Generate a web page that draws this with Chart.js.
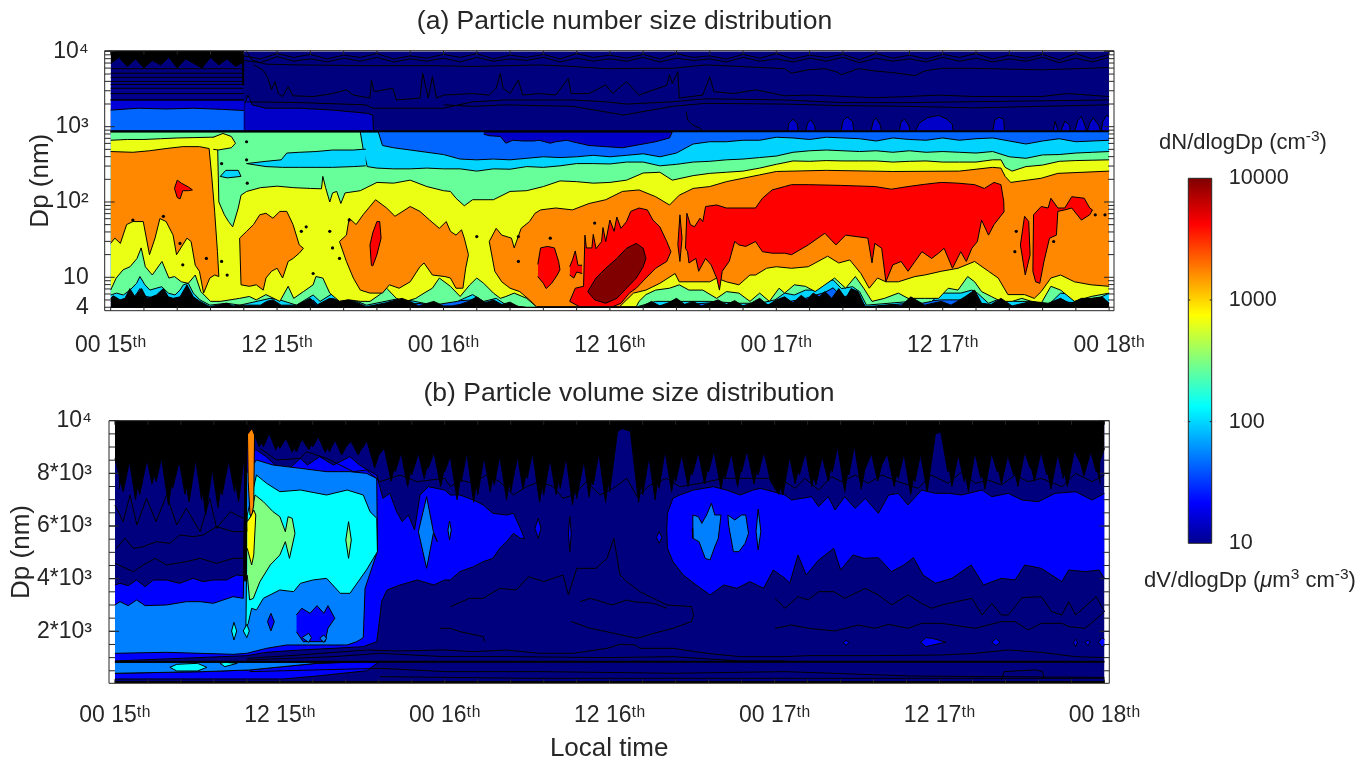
<!DOCTYPE html>
<html>
<head>
<meta charset="utf-8">
<script src="https://cdn.jsdelivr.net/npm/chart.js@4"></script>
<style>
  body { margin: 0; background: #fff; width: 1369px; height: 771px; overflow: hidden; font-family: "Liberation Sans", Arial, sans-serif; color: #262626; }
  canvas { position: absolute; }
  .cbt { position: absolute; font-size: 22px; white-space: nowrap; transform: translateX(-50%); }
  .cbt sup { font-size: 15.5px; line-height: 0; }
</style>
</head>
<body>
<canvas id="chartA" width="1249" height="372" style="left:0;top:0"></canvas>
<canvas id="chartB" width="1258" height="399" style="left:0;top:372px"></canvas>
<canvas id="chartC" width="239" height="420" style="left:1130px;top:150px"></canvas>
<div class="cbt" style="left:1243px;top:129px">dN/dlogDp (cm<sup>-3</sup>)</div>
<div class="cbt" style="left:1250px;top:567px">dV/dlogDp (<i>μ</i>m<sup>3</sup> cm<sup>-3</sup>)</div>
<script>
// ---------- labels ----------
const titleA = '(a) Particle number size distribution';
const titleB = '(b) Particle volume size distribution';
const hourTicks = [0, 12, 24, 36, 48, 60, 72];
const hourLabels = ['00 15ᵗʰ', '12 15ᵗʰ', '00 16ᵗʰ', '12 16ᵗʰ', '00 17ᵗʰ', '12 17ᵗʰ', '00 18ᵗʰ'];
const dpTicksA = [4, 10, 100, 1000, 10000];
const dpLabelsA = ['4', '10', '10²', '10³', '10⁴'];
const dpTicksB = [2000, 4000, 6000, 8000, 10000];
const dpLabelsB = ['2*10³', '4*10³', '6*10³', '8*10³', '10⁴'];
const cbarTicks = [10, 100, 1000, 10000];

// 1.2 h reading grid
const t12 = [0,1.2,2.4,3.6,4.8,6,7.2,8.4,9.6,10.8,12,13.2,14.4,15.6,16.8,18,19.2,20.4,21.6,22.8,24,25.2,26.4,27.6,28.8,30,31.2,32.4,33.6,34.8,36,37.2,38.4,39.6,40.8,42,43.2,44.4,45.6,46.8,48,49.2,50.4,51.6,52.8,54,55.2,56.4,57.6,58.8,60,61.2,62.4,63.6,64.8,66,67.2,68.4,69.6,70.8,72];

// ---------- panel (a): contour edges, hours and log10(Dp) ----------
const aCyanT = [0,19.3,19.6].concat(t12.slice(17));
const aCyanTop = [2.93,2.93,2.75,2.72,2.69,2.66,2.63,2.57,2.56,2.57,2.56,2.58,2.60,2.59,2.60,2.62,2.60,2.62,2.64,2.60,2.65,2.77,2.80,2.80,2.82,2.82,2.86,2.85,2.83,2.86,2.85,2.84,2.81,2.85,2.83,2.82,2.85,2.82,2.84,2.85,2.81,2.77,2.81,2.84,2.80,2.81,2.82];
const aCyanBotT = [0,.91,1.4,1.87,2.11,2.47,3.2,3.68,4.2,5,5.6,6,6.4,7.2,14,14.6,15,16,17.25,18.4,19.6,26.1,27.8,29,38,39.3,41.7,43.2,45,47.9,50.1,51.5,52.1,52.7,53.5,54,54.5,59.9,61.3,62.1,62.5,63.3,64.2,65.2,68.5,69.5,70.5,72];
const aCyanBot = [.68,.68,.70,.78,.85,.75,.72,.74,.70,.72,.80,.68,.62,.60,.60,.70,.62,.72,.64,.60,.62,.70,.65,.60,.60,.62,.64,.66,.62,.64,.72,.80,.86,.74,.76,.72,.60,.70,.70,.74,.68,.60,.64,.60,.68,.66,.60,.66];
const aGreenT = [0,18,18.2,18.5].concat(t12.slice(16));
const aGreenTop = [2.93,2.93,2.71,2.47,2.45,2.44,2.44,2.45,2.44,2.44,2.41,2.44,2.435,2.47,2.46,2.48,2.51,2.51,2.505,2.53,2.53,2.48,2.50,2.53,2.54,2.56,2.57,2.59,2.61,2.66,2.68,2.69,2.68,2.67,2.68,2.66,2.68,2.66,2.67,2.66,2.65,2.67,2.60,2.58,2.625,2.63,2.65,2.66,2.67];
const aGreenBotT = [0,.43,.91,1.39,1.87,2.11,2.47,2.83,3.2,3.68,4.16,4.64,5,5.24,5.6,5.96,6.44,7.16,8.36,9.32,11.5,12.2,13.4,14.6,15.1,16.05,17.25,18.45,20.86,23.26,25,26.1,26.9,27.8,28.5,30,38,39.3,41.7,43.2,45.3,46.8,47.9,48.6,49.3,50.1,50.8,51.5,52.1,52.7,53.5,54,54.5,57.7,58.5,59.2,59.9,60.6,61.3,62.1,62.5,63.3,64.2,65.2,66.4,67.6,68.5,69.5,70.5,72];
const aGreenBot = [.765,.79,.765,.83,.92,1.01,.90,.83,.85,.875,.79,.765,.83,.90,.92,.79,.70,.63,.655,.63,.72,.70,.63,.765,.68,.79,.72,.63,.72,.63,.68,.77,.68,.72,.635,.60,.61,.68,.68,.68,.655,.655,.70,.79,.765,.83,.83,.94,.965,.85,.875,.81,.63,.68,.655,.68,.79,.79,.79,.83,.79,.655,.72,.68,.68,.63,.79,.765,.655,.79];
const aYellowT = [0,1.2,2.4,3.6,4.8,6,7.2,7.7,7.8,8.2,8.5,8.8,9.2,9.4,9.8,10.8,12,13.2,14.4,15.2,15.3,15.5,15.8,16,16.3,16.6,16.9,18,19.2,20.4,21.6,22.8,24,24.5,24.9,25.5,26.1,27.6,28.8,30,31.2,32.4,33.6,34.8,36,37.2,38.4,39.6,40.5,42,43.2,44.4,45.6,46.8,48,49.2,50.4,51.6,52.8,54,55.2,56.4,57.6,58.8,60,61.2,62.4,63.6,64.2,64.5,65,66,67.2,68.4,69.6,70.8,72];
const aYellowTop = [2.82,2.83,2.83,2.84,2.85,2.855,2.86,2.86,2.0,1.83,1.74,1.67,1.92,2.09,2.14,2.19,2.21,2.19,2.18,2.175,2.34,2.19,2.0,2.12,2.14,1.98,2.12,2.15,2.26,2.25,2.29,2.205,2.15,2.14,2.05,1.95,2.03,2.03,2.14,2.15,2.205,2.28,2.27,2.25,2.26,2.29,2.385,2.395,2.29,2.35,2.38,2.395,2.41,2.45,2.50,2.545,2.54,2.55,2.545,2.545,2.545,2.53,2.54,2.545,2.53,2.53,2.53,2.56,2.56,2.46,2.41,2.47,2.49,2.54,2.55,2.555,2.56];
const aYellowBotT = [0,.4,.9,1.4,1.9,2.2,2.5,3,3.7,4.2,4.6,5.1,5.6,6.1,6.5,7.2,7.9,8.6,9.3,10,10.5,11.2,12.2,12.8,13.2,13.9,14.6,14.8,15.3,15.8,16.5,17.2,18,18.7,19.4,19.9,20.6,21.3,22,22.6,23.2,23.7,24.5,25.2,25.9,26.4,26.9,27.6,28.1,28.5,29.1,30,30.7,37.9,38.1,38.6,39.3,40.3,41,41.7,42.7,43.7,44.4,45.3,46.1,46.8,47.5,48.2,48.6,49.3,50.1,50.8,51.5,52.2,53,53.7,54.3,54.9,55.8,56.8,57.5,58.7,59.7,60.4,61.1,61.8,62.3,62.8,63.5,64.2,65,65.7,66.4,67.1,67.8,68.5,69.5,70.7,72];
const aYellowBot = [.83,.99,1.10,1.14,1.25,1.39,1.14,1.03,1.21,.99,1.01,.94,.92,1.03,.81,.68,.68,.70,.72,.745,.70,.77,.68,.88,.72,.81,.90,1.01,.99,.79,.68,.70,.68,.68,.77,.855,.72,.68,.72,.79,.855,.99,.88,.745,.90,.99,.92,.79,.72,.745,.79,.72,.61,.61,.68,.77,.83,.855,.90,.83,.83,.72,.81,.79,.68,.79,.68,.855,.79,.90,.88,.81,.90,.99,.855,1.01,.855,.68,.72,.79,.72,.72,.72,.855,.83,1.01,.94,.81,.745,.68,.68,.72,.68,.655,.88,.83,.68,.745,.79];
// orange patches
const aO1T = [0,1.6,2.8,4,5.2,6.4,7.1,7.3,7.5,7.7,7.8];
const aO1Top = [2.67,2.66,2.68,2.71,2.735,2.735,2.71,2.315,1.87,1.34,1.01];
const aO1BotT = [0,.3,.7,1.15,1.6,2.35,2.8,3.2,3.55,4,4.5,4.75,5.2,5.5,5.8,6.1,6.4,6.7,7.15,7.5,7.8];
const aO1Bot = [1.45,1.52,1.45,1.70,1.74,1.74,1.30,1.52,1.78,1.74,1.56,1.30,1.43,1.52,1.475,1.16,1.08,.79,.99,1.03,1.01];
const aO2T = [9.3,9.8,10.3,10.75,11.2,11.7,12.2,12.7,13.15,13.6,13.9];
const aO2Top = [1.52,1.61,1.70,1.83,1.85,1.785,1.875,1.875,1.70,1.43,1.385];
const aO2BotT = [9.3,9.4,10,10.5,11,11.2,11.6,12,12.4,12.8,13.15,13.6,13.9];
const aO2Bot = [1.52,.90,.88,.90,.83,.99,1.08,1.12,.99,1.21,1.25,1.32,1.385];
const aO3T = [16.5,17,17.2,17.7,18.2,19.1,19.9,20.5,21.6,22.3,23,23.7,24.2,24.5,24.9,25.3,25.5,25.8];
const aO3Top = [1.475,1.56,1.785,1.70,1.83,2.03,1.92,1.81,1.94,1.875,1.76,1.65,1.74,1.61,1.56,1.63,1.52,1.30];
const aO3BotT = [16.5,17,17.5,18,18.7,19.6,20.1,20.8,21.6,22.3,22.6,23.2,24.1,24.5,24.9,25.4,25.6,25.8];
const aO3Bot = [1.475,1.21,.99,.83,.79,.79,.90,.855,.94,1.14,1.19,1.03,1.01,.99,.855,.855,1.12,1.30];
const aO4T = [27.3,27.8,28.2,28.9,29.1,29.6,30.2,30.6,31,32.1,33.3,34.5,35.7,36.9,38.1,39.3,40.3,41,42,43.2,44.4,45.6,46.8,48,51.6,56.4,61.2,63.6,64.2,64.5,64.9,66.1,67.1,68.3,72];
const aO4Top = [1.475,1.65,1.56,1.52,1.39,1.65,1.74,1.85,1.895,1.92,1.895,1.98,2.03,2.14,2.16,2.07,1.96,2.09,2.18,2.205,2.27,2.315,2.36,2.405,2.42,2.405,2.41,2.46,2.45,2.34,2.26,2.29,2.315,2.38,2.41];
const aO4BotT = [27.3,27.7,28.2,28.8,29.5,30.2,30.7,36.7,37.7,38.6,39.6,40.7,41,42,43.2,43.7,44.4,45.3,46.1,46.5,47.3,48,49.1,50.3,51,51.7,52.5,53.3,54.1,54.7,55.3,55.9,56.8,58,58.7,59.9,61.1,62.3,63.3,64,64.7,65.9,66.6,67.1,67.8,68.5,69.5,70.7,72];
const aO4Bot = [1.475,1.08,.94,.855,.81,.70,.61,.61,.79,.83,.92,1.05,.94,.94,.94,.99,.94,.90,1.03,1.03,1.12,1.14,1.12,1.14,1.21,1.28,1.19,1.23,1.05,.855,.99,.94,.94,1.01,1.03,1.08,1.12,1.21,1.08,.99,.77,.77,.72,.81,.99,1.03,.94,.90,.88];
// red patches
const aMainRedT = [41.45,41.55,41.8,42.1,42.5,42.7,42.9,43.7,44.4,45.3,46.5,47,47.7,48.6,49.1,50.3,52.7,55.1,56.3,57.5,58.7,59.9,61.1,62.3,63,63.7,64.2,64.4,64.42];
const aMainRedTop = [1.385,1.85,1.70,1.67,1.785,1.74,1.94,1.96,1.92,1.92,1.92,2.05,2.16,2.205,2.23,2.23,2.22,2.205,2.17,2.205,2.235,2.26,2.25,2.23,2.18,2.26,2.23,2.005,1.87];
const aMainRedBotT = [41.45,41.6,41.7,42.2,42.4,42.9,43.3,43.7,43.9,44.1,44.6,45,45.3,45.8,46.5,47,47.7,48.6,49.1,50.3,51.5,52.3,53,54.6,54.9,55.1,55.6,55.9,56.4,57,57.5,58,58.5,59.2,59.7,60.1,60.7,61.3,61.7,62.1,62.5,62.8,63.3,63.7,64.42];
const aMainRedBot = [1.385,1.34,1.19,1.25,1.08,1.25,1.165,.99,.83,1.08,1.21,1.475,1.43,1.41,1.475,1.34,1.32,1.32,1.30,1.43,1.585,1.43,1.56,1.52,1.19,1.45,1.385,.94,1.165,1.21,1.08,1.21,1.34,1.25,1.32,1.385,1.12,1.34,1.21,1.385,1.475,1.76,1.56,1.70,1.87];
const aRed16T = [33.1,33.5,34.1,34.2,34.3,34.7,34.8,35,35.4,35.5,35.7,36,36.3,36.5,36.8,37.2,37.5,38.1,38.7,39.1,39.6,40.1,40.4];
const aRed16Top = [.68,.855,.88,1.56,1.39,1.39,1.57,1.38,1.475,1.66,1.475,1.76,1.61,1.80,1.65,1.74,1.875,1.92,1.895,1.76,1.67,1.475,1.34];
const aRed16BotT = [33.1,33.8,36.2,36.8,37.4,37.9,38.6,39.3,40.1,40.4];
const aRed16Bot = [.68,.61,.61,.655,.79,.855,.99,1.12,1.21,1.34];
const aDarkT = [34.4,35,35.7,36.5,37.2,37.9,38.4,38.6];
const aDarkTop = [.81,.99,1.12,1.25,1.385,1.45,1.385,1.25];
const aDarkBotT = [34.4,34.9,35.7,36.5,37.2,37.9,38.4,38.6];
const aDarkBot = [.81,.70,.655,.72,.855,.99,1.14,1.25];
const aArchT = [48.8,48.9,49.2,49.5,49.6,50.1,50.25,50.5,50.75,50.85,52.65,52.8,53.1,53.5,53.6,54.8,55,55.2,55.5,55.6,56.85,57,57.25,57.55,57.65,58,58.3,58.9,59.7,60.3,60.7,60.75,63.6,63.75,64.05,64.4,64.45,67.95,68.1,68.35,68.5,68.8,69.15,69.2,69.5,69.75,70,70.25,70.4,70.6,70.85,71.25,71.4,71.55,71.8,72];
const aArchTop = [2.93,3.045,3.10,3.045,2.93,2.93,3.045,3.095,3.02,2.93,2.93,3.075,3.13,3.07,2.93,2.93,3.075,3.12,3.02,2.93,2.93,3.07,3.10,3.02,2.93,2.93,3.045,3.12,3.15,3.10,3.03,2.93,2.93,3.09,3.125,3.10,2.93,2.93,3.07,2.93,2.93,3.075,3.02,2.93,2.93,3.09,3.135,3.02,2.93,3.045,3.12,3.02,2.93,3.07,3.15,3.135];
// contour lines in the upper part
const aLine1T = [9.8,10.2,11.2,13.6,18.4,23.2,26.1,28.5,30.9,33.3,35.7,38.1,40.5,42.9,45.3,48.6,49.1,50.3,51.5,52.3,52.7,53.9,55.1,56.3,58,58.7,59.9,62.3,67.1,72];
const aLine1 = [4.0,3.885,3.83,3.82,3.81,3.81,3.80,3.81,3.82,3.80,3.77,3.775,3.775,3.82,3.80,3.77,3.71,3.755,3.77,3.73,3.69,3.77,3.74,3.72,3.68,3.74,3.775,3.775,3.755,3.785];
const aLine2T = [10.3,11,11.35,11.6,11.85,12.1,12.4,12.8,13.15,14.6,16,17,17.5,18.7,18.8,19,20.35,20.6,22.3,22.5,22.9,23.2,23.5,24,26.1,27.3,27.8,28.1,28.3,28.8,29.4,29.7,30.9,32.1,33,33.2,34.5,35.7,36.2,37.2,38.1,40.1,40.3,40.5,40.9,41,42.7,43.2,43.5,44.9,46.5,48.6,50.3,55.1,57.5,59.7,62.3,67.1,69,72];
const aLine2 = [3.82,3.75,3.64,3.49,3.60,3.44,3.40,3.53,3.41,3.40,3.44,3.49,3.42,3.38,3.62,3.465,3.51,3.355,3.38,3.71,3.38,3.665,3.38,3.42,3.44,3.42,3.51,3.71,3.51,3.44,3.62,3.42,3.44,3.42,3.64,3.44,3.44,3.555,3.44,3.60,3.42,3.55,3.69,3.575,3.73,3.38,3.42,3.665,3.465,3.44,3.49,3.41,3.42,3.385,3.40,3.42,3.40,3.40,3.44,3.40];
const aLine3T = [9.8,13.6,18.4,18.9,24,26.1,28.5,33.3,35.7,37.2,40.5,42.9,48.6,52.7,57.5,72];
const aLine3 = [3.33,3.32,3.29,3.245,3.245,3.33,3.355,3.355,3.33,3.30,3.33,3.37,3.355,3.32,3.32,3.355];
const aLine4T = [24,26.1,28.5,33.3,37,40.5,42.9,48.6,52.7,57.5,62.3,67.1,72];
const aLine4 = [3.29,3.27,3.29,3.27,3.155,3.27,3.31,3.30,3.28,3.27,3.25,3.27,3.29];
const aLine5T = [41.5,41.6,42,42.5,42.7];
const aLine5 = [3.2,3.09,3.02,2.98,2.94];
const aStripes = [3.77,3.71,3.655,3.60,3.56,3.51,3.44,3.355];
// jagged clutter along the top and bottom edges
const aNoise1 = [3.96,3.90,3.97,3.88,3.95,3.86,3.96,3.88,3.94,3.90,3.97,3.92,3.96,3.90,3.95,3.92,3.97,3.90,3.94,3.91,3.96,3.92,3.97,3.90,3.95,3.92,3.96,3.90,3.97,3.92,3.95,3.91,3.96,3.90,3.97,3.92,3.94,3.90,3.96,3.91,3.97,3.90,3.95,3.92,3.96,3.89,3.97,3.91,3.95,3.90,3.96,3.92,3.97,3.90,3.95,3.91,3.96,3.89,3.97,3.90,3.96];
const aNoise2 = [3.88,3.84,3.92,3.82,3.90,3.80,3.91,3.84,3.88,3.85,3.93,3.87,3.90,3.86,3.91,3.87,3.92,3.86,3.90,3.87,3.91,3.86,3.92,3.87,3.90,3.88,3.92,3.86,3.91,3.87,3.90,3.87,3.92,3.86,3.91,3.88,3.90,3.86,3.92,3.87,3.90,3.86,3.91,3.87,3.92,3.85,3.91,3.87,3.90,3.86,3.92,3.87,3.91,3.86,3.90,3.87,3.92,3.85,3.91,3.86,3.92];
const aBlackTopT = [0,.6,1.2,1.8,2.4,3,3.6,4.2,4.8,5.4,6,6.6,7.2,7.8,8.4,9,9.6];
const aBlackTop = [3.84,3.92,3.80,3.90,3.78,3.88,3.82,3.92,3.78,3.90,3.84,3.78,3.92,3.82,3.90,3.80,3.86];
const aBlackLowT = [0,.19,.67,1.03,1.39,1.75,2.23,2.6,2.95,3.3,3.8,4.16,4.5,5,5.5,5.96,6.44,7.16,8.36,8.84,9.32,10.8,11.25,11.7,12.3,13.4,14.4,14.85,15.8,16.5,17.1,17.6,18.45,19.8,21,21.6,22.2,23.3,24,24.6,25.2,25.8,26.4,27,27.6,28.2,28.8,29.4,30,38,38.4,39,39.6,40.2,40.8,41.4,42,42.6,43.2,43.8,44.4,45,45.6,46.2,46.8,47.4,48,48.6,49.2,49.8,50.2,50.66,51.1,51.5,52,52.5,53,53.4,53.9,54.4,55.2,56.4,57,57.7,58.7,59.9,60.6,61.6,62.3,62.8,63.5,64.2,65,66.4,67.6,68.5,69.2,70,70.7,71.5,72];
const aBlackLow = [.72,.755,.70,.72,.85,.74,.85,.72,.74,.765,.85,.74,.72,.74,.90,.74,.68,.61,.655,.62,.63,.63,.68,.70,.63,.63,.72,.63,.72,.68,.70,.68,.61,.66,.72,.68,.62,.68,.62,.62,.64,.68,.74,.66,.70,.64,.67,.61,.60,.60,.62,.68,.62,.66,.72,.64,.68,.62,.66,.70,.64,.69,.62,.66,.72,.63,.70,.74,.66,.76,.70,.79,.74,.81,.72,.85,.72,.85,.81,.61,.62,.64,.62,.74,.63,.68,.63,.74,.83,.655,.64,.72,.62,.68,.655,.72,.65,.72,.72,.74,.655];
const aSpeckT = [14.1,13.75,15.8,16,16.5,17.2,14.6,5.2,6.9,8.4,8,1.6,3.8,5,9.8,9.8,9.85,8,31.7,26.4,29.4,29.4,34.9,65.3,65.2,68,71,71.7];
const aSpeck = [1.67,1.61,1.61,1.39,1.25,1.76,1.05,1.165,1.25,1.03,1.21,1.76,1.81,1.45,2.80,2.56,2.25,2.51,1.52,1.54,1.54,1.21,1.72,1.61,1.34,1.475,1.83,1.83];

// ---------- panel (b): contour edges, hours and Dp in nm ----------
const bBlackT = [0,.6,1.2,1.8,2.4,3,3.6,4.2,4.8,5.4,6,6.6,7.2,7.8,8.4,9,9.6,10.2,10.8,11.4,12,12.6,13.2,13.8,14.4,15,15.6,16.2,16.8,17.4,18,18.6,19.2,19.8,20.4,21,21.6,22.2,22.8,23.4,24,24.6,25.2,25.8,26.4,27,27.6,28.2,28.8,29.4,30,30.6,31.2,31.8,32.4,33,33.6,34.2,34.8,35.4,36,36.6,37.2,37.8,38.4,39,39.6,40.2,40.8,41.4,42,42.6,43.2,43.8,44.4,45,45.6,46.2,46.8,47.4,48,48.6,49.2,49.8,50.4,51,51.6,52.2,52.8,53.4,54,54.6,55.2,55.8,56.4,57,57.6,58.2,58.8,59.4,60,60.6,61.2,61.8,62.4,63,63.6,64.2,64.8,65.4,66,66.6,67.2,67.8,68.4,69,69.6,70.2,70.8,71.4,72];
const bBlack = [8570,7300,8820,7180,8700,7680,9080,7430,8700,6920,8950,6420,8570,7180,8820,6920,9460,9840,9010,9710,8950,9460,8820,9520,9010,9580,8820,9460,9010,9330,8950,9460,8700,9080,8060,9080,7940,8950,8190,9080,8060,8950,7680,9330,7180,9080,7560,9200,7300,8950,7810,9330,7180,8950,7430,9080,7050,8700,7560,9330,7300,9710,9960,9840,7180,9080,7430,9460,7680,9080,7940,9080,8060,9330,7810,9080,8060,9330,7940,9200,8060,7180,8950,7940,9080,7560,8950,8060,9580,7940,9580,8190,8950,8320,8950,7810,9200,7680,9200,9840,9840,8060,9080,7680,9200,7810,9080,8060,8950,7940,9080,8190,9200,7940,9200,7810,9080,8440,9200,8060,8950];
// second row of finer teeth, read half a step later
const bBlack2 = [7400,9000,7000,9100,7600,8900,6800,9000,7200,9200,7000,8800,6700,9000,7300,9100,9800,9000,9700,8900,9500,8800,9400,8900,9500,8800,9400,8700,9300,8700,9300,8200,9200,7700,9100,7500,9200,7800,9100,7500,9000,7000,9200,6900,9100,7300,9000,7000,9200,7400,9100,6900,9000,7200,9100,6800,9300,7100,9200,6900,9500,9700,9600,6900,9200,7000,9300,7300,9100,7500,9200,7600,9100,7400,9200,7500,9100,7600,9100,7700,7200,9100,7600,9200,7500,9000,7700,9300,7300,9400,7400,9100,7700,9000,7500,9100,7200,9100,7300,9500,9600,7500,9100,7300,9200,7400,9100,7600,9000,7500,9100,7700,9100,7400,9000,7500,9100,7900,9000,7600];
const bBlueT = [0,.37,.97,1.58,2.2,2.8,3.76,4.7,5.7,6.4,7.16,8.1,8.86,9.34,9.49,10.3,11,11.8,12.7,13.5,14,14.9,15.9,17.1,17.8,18.6,19.05,19.5,20,20.5,20.9,21.35,21.8,22.2,22.8,24,24.4,25.1,26.1,26.8,27.5,28.5,29,29.5,29.8];
const bBlueTop = [3760,3823,3734,3949,3696,3949,3949,3823,4013,3886,3949,3949,4139,4114,8950,8887,8634,8254,8190,8570,8317,8634,8317,8634,8317,8064,7937,7051,7241,6545,6165,6418,5848,7178,7494,7367,7178,7178,6988,6798,6481,6418,6481,5912,5532];
const bBlueBotT = [0,9.6,11,13.5,15.9,18.07,19.05,19.3,19.4,19.8,20.75,22,23.2,24,24.4,25.1,26.1,26.8,27.5,28,28.5,29,29.5,29.8];
const bBlueBot = [873,1075,1202,1290,1354,1417,1607,2620,3126,3570,3760,3949,3760,3949,3949,4266,4456,4646,4772,5152,5405,5722,5532,5532];
const bBlue2T = [40.15,40.2,40.6,41.1,42.1,43.55,44.5,45.5,46.45,46.95,47.9,48.75,49.24,49.97,50.7,51.2,51.9,52.4,53.1,53.85,54.6,55.55,56.3,57,57.7,58.7,59.7,60.65,61.6,63.1,63.8,65,66,67.2,68.4,69.9,71.1,72];
const bBlue2Top = [5912,6481,7051,7178,7367,7494,7367,7178,7367,7431,7304,7178,6988,7051,7114,6734,7114,6608,7114,6671,7051,6481,7178,7241,6798,7367,7241,7241,7178,7367,7114,7241,6988,6924,7241,7304,6988,7241];
const bBlue2BotT = [40.15,40.2,40.6,41.35,42.3,43.3,44.3,45.25,46.2,47.2,47.9,48.75,49.1,49.7,50.3,51.2,52.3,52.8,53.7,54.5,55.55,56.5,57.4,58.1,58.8,59.7,60.9,62.3,63.2,64.5,65.5,66.2,67.4,68.9,69.4,70.6,71.6,72];
const bBlue2Bot = [5912,5152,4646,4139,3760,3380,3760,3633,3886,3633,4329,4013,3823,4899,4139,4709,5152,4329,4899,4772,4797,4266,4519,4797,4139,3823,4013,4519,3760,4013,3949,4519,4392,3886,4329,4266,4329,4013];
const bLightT = [0,.37,.97,1.58,2.2,3.76,5.2,6.2,7.16,8.6,9.34,9.49,10.3,11.5,13.5,15.4,17.1,18.3,19.05,19.1];
const bLightTop = [3000,3126,2974,3190,2974,3000,3126,3126,3063,3316,3253,7937,8507,8317,8190,8064,8064,8000,7811,5025];
const bLightBotT = [0,3.76,6.2,8.6,9.6,11.04,12.5,15.9,16.9,17.6,18.07,18.2,19.05,19.1];
const bLightBot = [1164,1202,1164,1126,1164,1354,1481,1481,1481,1607,1759,3633,4962,5025];
const bCyanT = [9.53,9.63,10.3,11.04,12,13.5,15.4,16.9,18.07,18.56,19.05,19.1];
const bCyanTop = [2114,6418,7937,7620,7304,7367,7178,7367,7178,6545,6291,5025];
const bCyanBotT = [9.53,9.7,9.95,10.3,10.8,12,13,13.5,14.4,15.4,16.4,17.1,18.3,19.1];
const bCyanBot = [2114,2303,2873,2810,3253,3570,3506,3823,3949,4013,3443,3443,4329,5025];
const bGreenT = [9.63,10.2,10.8,11.5,12,12.4,12.6,12.9,13.1];
const bGreenTop = [5785,7178,6924,6545,6354,5785,6354,6291,5722];
const bGreenBotT = [9.63,9.8,10.07,10.55,11.3,12,12.4,12.7,13.1];
const bGreenBot = [4139,3190,3253,3886,4519,4899,5405,4772,5722];
const bYellowT = [9.63,9.88,10.1,10.25];
const bYellowTop = [6165,6354,6608,6418];
const bYellowBotT = [9.63,9.95,10.1,10.25];
const bYellowBot = [5152,4519,4899,6418];
const bOrangeT = [9.63,10.17];
const bOrangeTop = [10000,10000];
const bOrangeBotT = [9.63,9.7,9.83,9.97,10.1,10.17];
const bOrangeBot = [10000,7684,6418,6418,6798,10000];
const bHole1T = [13.2,13.6,14.2,14.7,15.2,15.5,16];
const bHole1Top = [2620,2873,2683,2974,2683,2974,2493];
const bHole1BotT = [13.2,13.7,14.5,15.3,15.5,16];
const bHole1Bot = [1987,1607,1607,1607,2113,2493];
const bLowStripT = [0,6.4,9.8,12.25,14.7,18.3,19.2];
const bLowStripBot = [405,468,531,658,784,847,823];
const bLowStripTop = [823,823,823,823,823,847,823];
const bLowBlueBot = [190,190,190,190,300,500,823];
const bLine1T = [10.55,11.77,13.47,13.95,15.4,17.35,18.3,19.3,20.75,22,24,24.4,25.1,26.1,27,28,29,29.95,30.9,31.9,32.6,33.35,34.3,35.3,36.25,37.25,38,38.95,40.15,41.1,42.6,44.3,46,47.9,48.75,49.5,50.2,51.2,52.15,52.9,53.85,54.8,55.8,57,58.45,59.4,60.65,61.6,62.6,63.55,64.5,65.5,66.45,67.4,68.9,69.9,71.1,72];
const bLine1 = [8950,8507,8570,8823,8570,8064,8127,7684,7937,7684,7811,7494,7747,7621,7937,7684,7178,7494,7684,7494,7051,7178,7684,7178,7431,7811,7114,7557,7811,7494,7621,7811,7811,7811,7684,7431,7811,7367,7874,7684,7937,7621,7937,7684,7431,7937,7621,8064,7621,7747,7557,7937,7684,7811,7494,8000,7684,7937];
const bLeft1T = [.12,.73,1.34,2.06,3.03,4,4.73,5.7,6.43,7.4,8.6,9.34];
const bLeft1 = [5152,5532,5152,5216,5405,5342,5658,5595,5658,5975,5785,5785];
const bLeft2T = [0,1.34,2.06,2.94,3.76,5.2,6.2,7.4,8.6,9.34];
const bLeft2 = [4582,4266,4519,4772,4519,4646,4772,4582,4772,4772];
const bLeft3T = [0,.6,1.1,1.6,2.3,3,3.76,4.5,5.2,6.2,6.9,7.4,8.4,9.34];
const bLeft3 = [6798,6165,7178,6038,7051,6165,7178,6038,6671,5785,7051,5912,6545,6291];
const bUpperT = [24.4,25.8,26.8,28,29.2,30.1,31.2,32.6,33,33.6,35,35.8,36.3,36.75,37.25,38.2,40.15,41.95,42.1];
const bUpper = [2936,3253,3253,3633,3570,4076,3886,4139,3380,4392,4392,4772,5532,4139,3886,3506,3000,2936,2620];
const bInnerT = [33.85,34.6,36.15,37.25,37.7,39.2,40.15];
const bInner = [3126,3253,3000,3190,3126,3063,2873];
const bUnderT = [33.2,34.6,36.3,38,39.2,40.6,41.95,42.1];
const bUnder = [2367,2114,1924,1734,1924,2114,2367,2620];
const bLeftOvalT = [23.65,24.4,25.1,26.8,26.9];
const bLeftOval = [2114,2114,1987,1797,1607];
const bRightUpT = [48.03,48.76,49.7,50.45,51.2,52.3,53.1,54.6,55.55,56.5,57.7,58.7,59.4,60.15,62.35,63.1,63.8,64.5,65,66,67.4,68.15,68.9,69.4,69.9,71.4,72];
const bRightUp = [3253,2873,3316,3190,3506,3506,3253,3633,3380,3000,3380,3063,2873,3000,3253,2620,3063,2620,2620,3278,3316,2747,2620,3126,2620,3316,2747];
const bRightLowT = [48.03,49.24,50.45,52.4,54.1,55.3,56.3,57.7,58.7,60.15,62.6,64.5,65.5,66.45,67.4,68.9,69.4,70.6,72];
const bRightLow = [2114,2240,2114,2013,2240,2114,2265,2114,2303,2303,2114,2367,2367,2050,2303,2303,2177,2114,2747];
const bLow1T = [9.6,13.5,18.3,20.75,24,26.1,28.5,30.9,33.35,35.8,36.75,37.85,38.2,40.6,43.05,45.5,48.75,50.45,55.3,60.15,62.6,65,67.4,69.9,72];
const bLow1 = [974,1101,1290,1253,1290,1227,1290,1164,1164,1354,1506,1481,1354,1354,1164,1037,1037,1076,1076,1101,1164,1290,1202,1037,1000];
const bLow2T = [9.6,15.9,19.3,24,29,35.8,40.6,45.5,48.75];
const bLow2 = [911,1037,1164,1037,1037,1000,1037,873,873];
const bLow3T = [9.8,19.3,24,31,40.6,48.75,58,72];
const bLow3 = [468,594,468,468,405,468,300,250];
const bLow4T = [19.3,30,40,60,72];
const bLow4 = [278,215,215,215,215];
const bBoxT = [64.5,64.7,65.5,67,67.5,67.6];
const bBox = [151,468,493,531,468,215];

// ---------- drawing ----------
const INK = '#262626';
Chart.defaults.font.family = '"Liberation Sans", Arial, sans-serif';
Chart.defaults.font.size = 23;
Chart.defaults.color = INK;
Chart.defaults.animation = false;

const navy = '#00007f', dkBlue = '#0000c8', blue = '#0000ff', midA = '#0066ff', midB = '#0080ff';
const cyanA = '#00d4ff', cyanB = '#00ffff', greenA = '#66ff99', greenB = '#80ff80';
const yellowA = '#eaff14', yellowB = '#ffff00', orange = '#ff8800', red = '#ff0000', dkRed = '#800000';

const pts = (t, v, conv) => t.map((h, i) => ({ x: h, y: conv(v[i]) }));
const fromLog = v => Math.pow(10, v);
const asIs = v => v;

// keeps datasets in paint order, each filled shape is a pair: upper edge filled to the lower edge
function layers(conv) {
  const sets = [];
  const api = {
    sets,
    band(color, tTop, top, tBot, bot, edge = 1) {
      sets.push({ data: pts(tTop, top, conv), borderColor: '#000', borderWidth: edge, backgroundColor: color, fill: '+1', pointRadius: 0, tension: 0 });
      sets.push({ data: pts(tBot, bot, conv), borderColor: '#000', borderWidth: edge, fill: false, pointRadius: 0, tension: 0 });
    },
    line(t, v, width = 1) {
      sets.push({ data: pts(t, v, conv), borderColor: '#000', borderWidth: width, fill: false, pointRadius: 0, tension: 0 });
    },
    dots(t, v, r) {
      sets.push({ data: pts(t, v, conv), showLine: false, pointRadius: r, pointBackgroundColor: '#000', pointBorderWidth: 0, fill: false });
    },
    done() {
      sets.forEach((s, i) => { s.order = sets.length - i; });
      return sets;
    }
  };
  return api;
}

// ---- panel a ----
const a = layers(fromLog);
a.band(navy, [0, 72], [4, 4], [0, 72], [.6, .6], 0);
a.band('#00008c', [0, 9.6], [3.60, 3.60], [0, 9.6], [2.94, 2.94]);
a.band('#0000d8', [0, 9.6], [3.355, 3.355], [0, 9.6], [2.94, 2.94]);
a.band(midA, [0, 2, 4, 6, 8, 9.6], [3.22, 3.245, 3.235, 3.245, 3.23, 3.215], [0, 9.6], [2.94, 2.94]);
a.band(dkBlue, [9.7, 9.9, 10.2, 11.2, 13.6, 16, 18.4, 18.9, 18.95], [3.31, 3.42, 3.29, 3.245, 3.245, 3.22, 3.18, 3.155, 2.94], [9.7, 18.95], [2.94, 2.94]);
a.band(dkBlue, aArchT, aArchTop, [48.8, 72], [2.93, 2.93]);
a.band(midA, [0, 72], [2.93, 2.93], [0, 72], [.6, .6], 0);
a.band(dkBlue, [26.9, 40.5], [2.93, 2.93], [26.9, 27.3, 28.1, 28.5, 29, 29.7, 30.5, 30.9, 31.7, 32.1, 32.9, 33.3, 34.5, 35.7, 36.9, 38.1, 39.3, 40.3, 40.5], [2.90, 2.88, 2.87, 2.78, 2.82, 2.81, 2.81, 2.82, 2.78, 2.80, 2.82, 2.80, 2.75, 2.735, 2.72, 2.76, 2.80, 2.85, 2.93]);
a.band(cyanA, aCyanT, aCyanTop, aCyanBotT, aCyanBot);
a.band(greenA, aGreenT, aGreenTop, aGreenBotT, aGreenBot);
a.band(cyanA, [9.8, 11.2, 12.3, 12.7, 13.6, 14.8, 16, 17.5, 18.2, 18.4], [2.51, 2.54, 2.56, 2.65, 2.66, 2.67, 2.69, 2.69, 2.70, 2.70], [9.8, 11.2, 12.4, 13.6, 14.8, 16, 17.5, 18.4], [2.51, 2.47, 2.46, 2.46, 2.46, 2.46, 2.47, 2.48]);
a.band(cyanA, [7.9, 8.3, 9.2, 9.4], [2.34, 2.42, 2.42, 2.34], [7.9, 8.4, 9.4], [2.34, 2.32, 2.34]);
a.band(yellowA, aYellowT, aYellowTop, aYellowBotT, aYellowBot);
a.band(yellowA, [7.4, 8.1, 8.7, 9], [2.86, 2.91, 2.87, 2.78], [7.4, 7.75, 8.7, 9], [2.70, 2.69, 2.72, 2.78]);
a.band(orange, aO1T, aO1Top, aO1BotT, aO1Bot);
a.band(orange, aO2T, aO2Top, aO2BotT, aO2Bot);
a.band(orange, aO3T, aO3Top, aO3BotT, aO3Bot);
a.band(orange, aO4T, aO4Top, aO4BotT, aO4Bot);
a.band(red, [4.6, 4.8, 5.1, 5.6, 5.9], [2.18, 2.29, 2.25, 2.2, 2.16], [4.6, 4.8, 5, 5.2, 5.6, 5.9], [2.18, 2.06, 2.04, 2.15, 2.15, 2.16]);
a.band(red, [18.7, 18.9, 19.2, 19.4, 19.5], [1.43, 1.59, 1.74, 1.74, 1.52], [18.7, 18.8, 18.9, 19.2, 19.5], [1.43, 1.16, 1.15, 1.30, 1.52]);
a.band(red, [30.8, 31, 31.5, 32, 32.3, 32.4], [1.17, 1.39, 1.41, 1.39, 1.21, 1.10], [30.8, 31.2, 31.4, 31.8, 32.2, 32.4], [1.01, .92, .85, .92, 1.03, 1.10]);
a.band(red, [33.1, 33.3, 33.5, 33.7, 34], [1.14, 1.23, 1.35, 1.16, 1.16], [33.1, 33.4, 33.6, 34], [1.03, .99, 1.07, 1.05]);
a.band(red, aRed16T, aRed16Top, aRed16BotT, aRed16Bot);
a.band(dkRed, aDarkT, aDarkTop, aDarkBotT, aDarkBot);
a.band(red, [40.9, 41.05, 41.2], [1.43, 1.83, 1.52], [40.9, 41.05, 41.2], [1.43, 1.21, 1.52]);
a.band(red, aMainRedT, aMainRedTop, aMainRedBotT, aMainRedBot);
a.band(red, [65.6, 65.9, 66.2, 66.3], [1.43, 1.81, 1.74, 1.30], [65.6, 65.95, 66.3], [1.43, 1.03, 1.30]);
a.band(red, [66.5, 66.55, 67.1, 67.6, 67.8, 68.3, 68.8, 69.3, 70.2, 70.6, 70.8], [1.08, 1.83, 1.94, 1.92, 2.05, 1.92, 1.92, 2.07, 2.05, 1.92, 1.895], [66.5, 66.7, 67, 67.3, 67.7, 68.2, 68.3, 68.8, 69.3, 70, 70.6, 70.8], [1.08, .94, .92, 1.21, 1.52, 1.56, 1.875, 1.895, 1.92, 1.76, 1.83, 1.895]);
a.band('#000', aBlackLowT, aBlackLow, [0, 72], [.6, .6]);
a.band('#000', aBlackTopT, aBlackTop, [0, 9.6], [4, 4]);
aStripes.forEach(v => a.line([0, 9.6], [v, v]));
a.line([9.55, 9.55], [4, 3.55], 2);
a.line(aLine1T, aLine1);
a.line(aLine2T, aLine2);
a.line(aLine3T, aLine3);
a.line(aLine4T, aLine4);
a.line(aLine5T, aLine5);
a.line(t12.slice(8), aNoise1.slice(8));
a.line(t12.slice(8), aNoise2.slice(8));
a.line([0, 72], [2.94, 2.94], 2);
a.dots(aSpeckT, aSpeck, 1.6);

// ---- panel b ----
const b = layers(asIs);
b.band(navy, [0, 72], [10000, 10000], [0, 72], [40, 40], 0);
b.band(blue, bBlueT, bBlueTop, bBlueBotT, bBlueBot);
b.band(blue, bBlue2T, bBlue2Top, bBlue2BotT, bBlue2Bot);
b.band(blue, bLowStripT, bLowStripBot, bLowStripT, bLowBlueBot);
b.band(midB, bLowStripT, bLowStripTop, bLowStripT, bLowStripBot);
b.band(midB, bLightT, bLightTop, bLightBotT, bLightBot);
b.band(blue, bHole1T, bHole1Top, bHole1BotT, bHole1Bot);
b.band(blue, [11.1, 11.35, 11.6], [2367, 2683, 2367], [11.1, 11.35, 11.6], [2367, 2013, 2367]);
b.band(midB, [13.6, 14.1, 14.3], [1759, 1924, 1759], [13.6, 14.1, 14.3], [1759, 1582, 1759]);
b.band(midB, [14.9, 15.2, 15.4], [1734, 1860, 1734], [14.9, 15.2, 15.4], [1734, 1582, 1734]);
b.band(cyanB, bCyanT, bCyanTop, bCyanBotT, bCyanBot);
b.band(greenB, bGreenT, bGreenTop, bGreenBotT, bGreenBot);
b.band(greenB, [16.8, 17, 17.2], [5468, 6165, 5468], [16.8, 17, 17.2], [5468, 4772, 5468]);
b.band(orange, bOrangeT, bOrangeTop, bOrangeBotT, bOrangeBot);
b.band(yellowB, bYellowT, bYellowTop, bYellowBotT, bYellowBot);
b.band(cyanB, [8.49, 8.66, 8.86], [2013, 2341, 2013], [8.49, 8.66, 8.86], [2013, 1670, 2013]);
b.band(cyanB, [9.34, 9.6, 9.78], [2013, 2265, 2013], [9.34, 9.6, 9.78], [2013, 1759, 2013]);
b.band(cyanB, [4, 4.5, 6, 6.7], [632, 746, 784, 632], [4, 4.5, 6, 6.7], [632, 493, 493, 632]);
b.band(cyanB, [7.64, 8, 8.9], [784, 823, 784], [7.64, 8, 8.9], [784, 658, 784]);
// lighter patches inside the blue areas
b.band(midB, [42, 42.05, 42.45, 42.7, 43.05, 43.4, 43.65, 44.1], [5900, 6418, 6354, 6101, 6418, 6861, 6418, 6418], [42, 42.05, 42.5, 42.95, 43.3, 43.65, 43.9, 44.1], [5900, 5532, 5405, 4772, 4709, 5216, 5532, 6418]);
b.band(midB, [44.6, 45.1, 45.6, 45.9, 46.1], [6418, 6228, 6418, 6418, 5722], [44.6, 44.65, 45, 45.4, 45.85, 46.1], [6418, 6038, 5025, 5025, 5342, 5722]);
b.band(midB, [46.65, 46.8, 47], [5800, 6646, 5800], [46.65, 46.8, 47], [5800, 5089, 5800]);
b.band(midB, [24.23, 24.35, 24.47], [5848, 6190, 5848], [24.23, 24.35, 24.47], [5848, 5468, 5848]);
b.band(midB, [22.08, 22.68, 23.17, 23.46], [5785, 7114, 5785, 5400], [22.08, 22.68, 23.17, 23.46], [5785, 4392, 5722, 5400]);
b.band(blue, [30.56, 30.8, 31], [5912, 6291, 5912], [30.56, 30.8, 31], [5912, 5532, 5912]);
b.band(blue, [32.99, 33.1, 33.2], [5722, 6354, 5722], [32.99, 33.1, 33.2], [5722, 5025, 5722]);
b.band(blue, [39.4, 39.6, 39.8], [5570, 5785, 5570], [39.4, 39.6, 39.8], [5570, 5342, 5570]);
b.band(blue, [58.63, 59, 59.5, 60.45], [1582, 1760, 1734, 1582], [58.63, 59, 59.5, 60.45], [1582, 1417, 1481, 1582]);
b.band(blue, [63.8, 64.1, 64.4], [1582, 1734, 1582], [63.8, 64.1, 64.4], [1582, 1455, 1582]);
b.band(blue, [53, 53.2, 53.4], [1582, 1658, 1582], [53, 53.2, 53.4], [1582, 1455, 1582]);
b.band(blue, [69.75, 69.9, 70.03], [1582, 1696, 1582], [69.75, 69.9, 70.03], [1582, 1417, 1582]);
b.band(blue, [70.6, 70.8, 70.95], [1582, 1658, 1582], [70.6, 70.8, 70.95], [1582, 1455, 1582]);
b.band(blue, [71.56, 71.8, 72], [1582, 1760, 1700], [71.56, 71.8, 72], [1582, 1417, 1450]);
b.line(bLine1T, bLine1);
b.line(bLeft1T, bLeft1);
b.line(bLeft2T, bLeft2);
b.line(bLeft3T, bLeft3);
b.line(bUpperT, bUpper);
b.line(bInnerT, bInner);
b.line(bUnderT, bUnder);
b.line(bLeftOvalT, bLeftOval);
b.line(bRightUpT, bRightUp);
b.line(bRightLowT, bRightLow);
b.line(bLow1T, bLow1);
b.line(bLow2T, bLow2);
b.line(bLow3T, bLow3);
b.line(bLow4T, bLow4);
b.line(bBoxT, bBox);
b.band('#000', bBlackT, Array(bBlackT.length).fill(10000), bBlackT, bBlack);
const bBlack2T = bBlackT.slice(0, 120).map(h => h + .3);
b.band('#000', bBlack2T, Array(120).fill(10000), bBlack2T, bBlack2);
b.line([9.5, 9.5], [10000, 3900], 3);
b.line([0, 72], [847, 847], 2);
b.line([0, 72], [70, 70], 2);

// box and inward ticks on all four sides, as in the source figure
const frame = {
  id: 'frame',
  afterLayout(chart, args, o) {
    // the titles sit off centre from the axes box
    if (o.titleCenter) {
      chart.titleBlock.left = 0;
      chart.titleBlock.right = o.titleCenter * 2;
    }
  },
  afterDatasetsDraw(chart, args, o) {
    const { ctx, chartArea: ca, scales } = chart;
    ctx.save();
    ctx.strokeStyle = INK;
    ctx.lineWidth = 1;
    ctx.beginPath();
    (o.xMinor || []).forEach(v => {
      const p = scales.x.getPixelForValue(v);
      ctx.moveTo(p, ca.bottom); ctx.lineTo(p, ca.bottom - o.xLen);
      ctx.moveTo(p, ca.top); ctx.lineTo(p, ca.top + o.xLen);
    });
    (o.yMinor || []).forEach(v => {
      const p = scales.y.getPixelForValue(v);
      ctx.moveTo(ca.left, p); ctx.lineTo(ca.left + o.yLen, p);
      ctx.moveTo(ca.right, p); ctx.lineTo(ca.right - o.yLen, p);
    });
    (o.yMajor || []).forEach(v => {
      const p = scales.y.getPixelForValue(v);
      ctx.moveTo(ca.left, p); ctx.lineTo(ca.left + o.yMajorLen, p);
      ctx.moveTo(ca.right, p); ctx.lineTo(ca.right - o.yMajorLen, p);
    });
    ctx.rect(ca.left, ca.top, ca.right - ca.left, ca.bottom - ca.top);
    ctx.stroke();
    ctx.restore();
  }
};

const xMinor = [0, 2.4, 4.8, 7.2, 9.6, 12, 14.4, 16.8, 19.2, 21.6, 24, 26.4, 28.8, 31.2, 33.6, 36, 38.4, 40.8, 43.2, 45.6, 48, 50.4, 52.8, 55.2, 57.6, 60, 62.4, 64.8, 67.2, 69.6, 72];
const logMinorA = [4, 5, 6, 7, 8, 9, 20, 30, 40, 50, 60, 70, 80, 90, 200, 300, 400, 500, 600, 700, 800, 900, 2000, 3000, 4000, 5000, 6000, 7000, 8000, 9000];
const linMinorB = [500, 1000, 1500, 2000, 2500, 3000, 3500, 4000, 4500, 5000, 5500, 6000, 6500, 7000, 7500, 8000, 8500, 9000, 9500];

function panelOptions(cfg) {
  return {
    responsive: false,
    devicePixelRatio: 1,
    events: [],
    layout: { padding: { left: 0, right: cfg.padRight, top: 0, bottom: 0 } },
    plugins: {
      legend: { display: false },
      tooltip: { enabled: false },
      title: { display: true, text: cfg.title, font: { size: 26.5, weight: 'normal', lineHeight: 1.2 }, color: INK, padding: { top: cfg.titleTop, bottom: cfg.titleBottom } },
      frame: { titleCenter: cfg.titleCenter, xMinor, yMinor: cfg.yMinor, yMajor: cfg.yMajor, xLen: 4, yLen: 6, yMajorLen: 10 }
    },
    scales: {
      x: {
        type: 'linear', min: -0.43, max: 72.35,
        grid: { display: false }, border: { display: false },
        afterBuildTicks: s => { s.ticks = hourTicks.map(v => ({ value: v })); },
        afterFit: s => { s.height = cfg.xHeight; },
        ticks: { padding: cfg.xPad, maxRotation: 0, autoSkip: false, callback: v => hourLabels[hourTicks.indexOf(v)] },
        title: cfg.xTitle
      },
      y: {
        type: cfg.yType, min: cfg.yMin, max: cfg.yMax,
        grid: { display: false }, border: { display: false },
        afterBuildTicks: s => { s.ticks = cfg.yTicks.map(v => ({ value: v })); },
        afterFit: s => { s.width = cfg.yWidth; },
        ticks: { padding: cfg.yPad, autoSkip: false, callback: v => cfg.yLabels[cfg.yTicks.indexOf(v)] },
        title: { display: true, text: 'Dp (nm)', color: INK, font: { size: 26 }, padding: { top: cfg.yTitlePad, bottom: 0 } }
      }
    }
  };
}

new Chart(document.getElementById('chartA'), {
  type: 'line',
  data: { datasets: a.done() },
  options: panelOptions({
    title: titleA, titleCenter: 624.5, titleTop: 6.1, titleBottom: 12.8, padRight: 135, xHeight: 61.3, xPad: 13, yWidth: 104.7, yPad: 8, yTitlePad: 25,
    yType: 'logarithmic', yMin: 3.6, yMax: 10210, yTicks: dpTicksA, yLabels: dpLabelsA, yMinor: logMinorA, yMajor: [10, 100, 1000, 10000],
    xTitle: { display: false }
  }),
  plugins: [frame]
});

new Chart(document.getElementById('chartB'), {
  type: 'line',
  data: { datasets: b.done() },
  options: panelOptions({
    title: titleB, titleCenter: 629, titleTop: 6.1, titleBottom: 10.8, padRight: 148.7, xHeight: 87.7, xPad: 11, yWidth: 109, yPad: 9, yTitlePad: 6,
    yType: 'linear', yMin: 25, yMax: 10000, yTicks: dpTicksB, yLabels: dpLabelsB, yMinor: linMinorB, yMajor: dpTicksB,
    xTitle: { display: true, text: 'Local time', color: INK, font: { size: 26 }, padding: { top: 0, bottom: 6.4 } }
  }),
  plugins: [frame]
});

// ---- colour bar ----
new Chart(document.getElementById('chartC'), {
  type: 'bar',
  data: {
    labels: [''],
    datasets: [{
      data: [[10, 10000]],
      barPercentage: 1,
      categoryPercentage: 1,
      backgroundColor: ctx => {
        const ca = ctx.chart.chartArea;
        if (!ca) return '#000';
        const g = ctx.chart.ctx.createLinearGradient(0, ca.bottom, 0, ca.top);
        g.addColorStop(0, '#00008f');
        g.addColorStop(0.11, '#0000ff');
        g.addColorStop(0.375, '#00ffff');
        g.addColorStop(0.625, '#ffff00');
        g.addColorStop(0.875, '#ff0000');
        g.addColorStop(1, '#800000');
        return g;
      }
    }]
  },
  options: {
    responsive: false,
    devicePixelRatio: 1,
    events: [],
    layout: { padding: { left: 58.3, right: 0, top: 28.3, bottom: 26.7 } },
    plugins: { legend: { display: false }, tooltip: { enabled: false }, frame: { yMajor: [100, 1000], yLen: 0, yMajorLen: 2 } },
    scales: {
      x: { display: false },
      y: {
        type: 'logarithmic', position: 'right', min: 10, max: 10000,
        grid: { display: false }, border: { display: false },
        afterBuildTicks: s => { s.ticks = cbarTicks.map(v => ({ value: v })); },
        afterFit: s => { s.width = 157.3; },
        ticks: { padding: 9, autoSkip: false, font: { size: 21.6 }, callback: v => String(v) }
      }
    }
  },
  plugins: [frame]
});
</script>
</body>
</html>
